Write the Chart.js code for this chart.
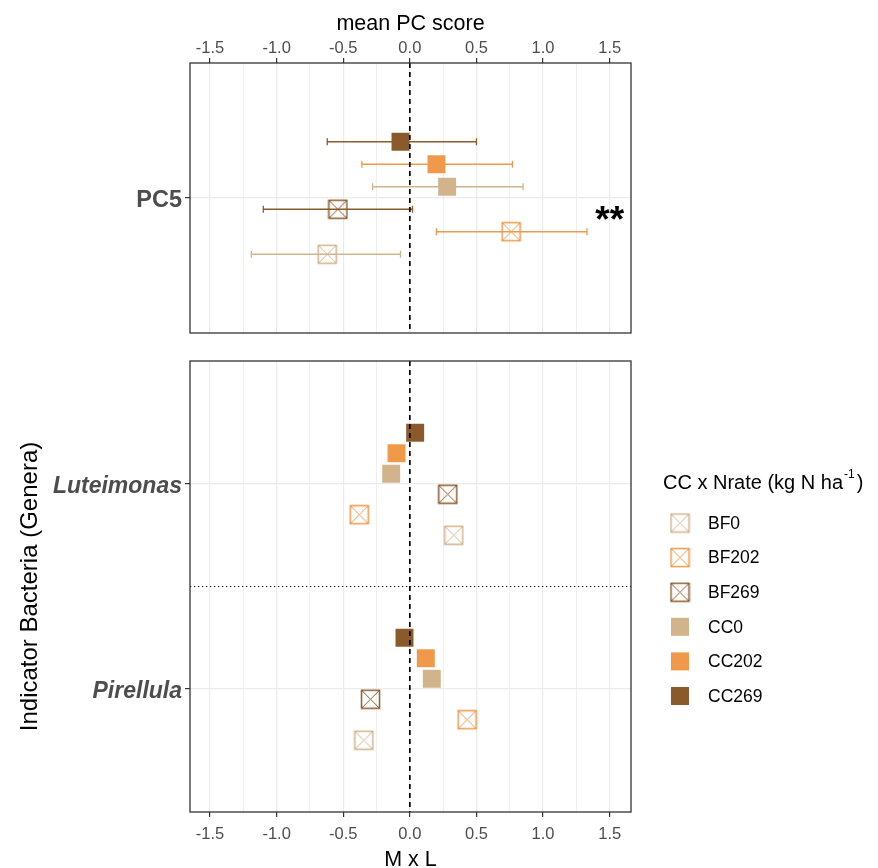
<!DOCTYPE html>
<html>
<head>
<meta charset="utf-8">
<title>PC5 and indicator bacteria</title>
<script src="https://cdn.jsdelivr.net/npm/chart.js@4.4.1/dist/chart.umd.min.js"></script>
<style>
    body { margin: 0; background: #fff; }
    #wrap { position: relative; width: 878px; height: 868px; }
    #wrap canvas { position: absolute; left: 0; top: 0; }
</style>
</head>
<body>
<div id="wrap">
    <canvas id="pcChart" width="878" height="868"></canvas>
    <canvas id="genusChart" width="878" height="868"></canvas>
</div>
<script>
const groups = ["BF0", "BF202", "BF269", "CC0", "CC202", "CC269"];
const groupColors = ["#D2B48C", "#F0994A", "#8B5A2B", "#D2B48C", "#F0994A", "#8B5A2B"];
const groupFilled = [false, false, false, true, true, true];

const pcLabels = ["PC5"];
const pcMean = [-0.62, 0.76, -0.54, 0.28, 0.20, -0.07];
const pcLow = [-1.19, 0.20, -1.10, -0.28, -0.36, -0.62];
const pcHigh = [-0.07, 1.33, 0.02, 0.85, 0.77, 0.50];
const pcSig = "**";

const genera = ["Pirellula", "Luteimonas"];
const pirellula = [-0.345, 0.43, -0.295, 0.165, 0.12, -0.04];
const luteimonas = [0.33, -0.38, 0.285, -0.14, -0.10, 0.04];

const xBreaks = [-1.5, -1.0, -0.5, 0.0, 0.5, 1.0, 1.5];

const FONT = "'Liberation Sans', Arial, sans-serif";
const TICK_GREY = "#4D4D4D";

const dodge = i => (i - (groups.length - 1) / 2) * 0.1;
const isMajor = v => Math.abs(v * 2 - Math.round(v * 2)) < 1e-9;

// major breaks plus the minor ones halfway between
const xGrid = [];
xBreaks.forEach((b, i) => {
    xGrid.push(b);
    if (i < xBreaks.length - 1) xGrid.push((b + xBreaks[i + 1]) / 2);
});

function boxCross(color, size) {
    const c = document.createElement("canvas");
    c.width = size;
    c.height = size;
    const g = c.getContext("2d");
    g.strokeStyle = color;
    g.lineWidth = 1.5;
    g.strokeRect(1.5, 1.5, size - 3, size - 3);
    g.lineWidth = 1;
    g.beginPath();
    g.moveTo(1.5, 1.5);
    g.lineTo(size - 1.5, size - 1.5);
    g.moveTo(size - 1.5, 1.5);
    g.lineTo(1.5, size - 1.5);
    g.stroke();
    return c;
}
const crossImgs = groupColors.map(c => boxCross(c, 21));

function makeDatasets(pointsFor) {
    return groups.map((g, i) => ({
        label: g,
        data: pointsFor(i),
        pointStyle: groupFilled[i] ? "rect" : crossImgs[i],
        pointRadius: 12.7,
        pointHoverRadius: 12.7,
        backgroundColor: groupColors[i],
        borderColor: groupColors[i],
        borderWidth: 0
    }));
}

function xScale(position, title, tickPad, titlePad, titleLine, height) {
    return {
        type: "linear",
        position: position,
        min: -1.65,
        max: 1.66,
        afterBuildTicks: s => { s.ticks = xGrid.map(v => ({ value: v })); },
        afterFit: s => { s.height = height; },
        ticks: {
            autoSkip: false,
            maxRotation: 0,
            padding: tickPad,
            color: TICK_GREY,
            font: { size: 16.5, family: FONT },
            callback: v => isMajor(v) ? v.toFixed(1) : ""
        },
        grid: {
            color: "#EBEBEB",
            lineWidth: ctx => isMajor(ctx.tick.value) ? 1.2 : 0.8,
            tickLength: 5,
            tickColor: ctx => isMajor(ctx.tick.value) ? "#333333" : "rgba(0,0,0,0)"
        },
        border: { display: false },
        title: {
            display: true,
            text: title,
            color: "#000",
            font: { size: 21.5, family: FONT, lineHeight: titleLine },
            padding: { top: titlePad, bottom: titlePad }
        }
    };
}

function yScale(min, max, values, labelOf, fontOf, title) {
    return {
        type: "linear",
        min: min,
        max: max,
        afterBuildTicks: s => { s.ticks = values.map(v => ({ value: v })); },
        afterFit: s => { s.width = 190; },
        ticks: {
            autoSkip: false,
            padding: 3,
            labelOffset: 3,
            color: TICK_GREY,
            font: fontOf,
            callback: v => labelOf(v)
        },
        grid: { color: "#EBEBEB", lineWidth: 1.2, tickLength: 5, tickColor: "#333333" },
        border: { display: false },
        title: {
            display: !!title,
            text: title || "",
            color: "#000",
            font: { size: 24, family: FONT, lineHeight: 1 },
            padding: { top: 18, bottom: 0 }
        }
    };
}

const errorBars = {
    id: "errorBars",
    beforeDatasetsDraw(chart) {
        const { ctx, scales: { x, y } } = chart;
        ctx.save();
        ctx.lineWidth = 1.3;
        groups.forEach((g, i) => {
            const py = y.getPixelForValue(1 + dodge(i));
            const x0 = x.getPixelForValue(pcLow[i]);
            const x1 = x.getPixelForValue(pcHigh[i]);
            ctx.strokeStyle = groupColors[i];
            ctx.beginPath();
            ctx.moveTo(x0, py);
            ctx.lineTo(x1, py);
            ctx.moveTo(x0, py - 3.5);
            ctx.lineTo(x0, py + 3.5);
            ctx.moveTo(x1, py - 3.5);
            ctx.lineTo(x1, py + 3.5);
            ctx.stroke();
        });
        ctx.restore();
    }
};

const refLines = {
    id: "refLines",
    afterDatasetsDraw(chart, args, opts) {
        const { ctx, chartArea: a, scales: { x, y } } = chart;
        ctx.save();
        ctx.strokeStyle = "#000";
        (opts.hlines || []).forEach(v => {
            const py = y.getPixelForValue(v);
            ctx.lineWidth = 1.2;
            ctx.setLineDash([1.2, 2.8]);
            ctx.beginPath();
            ctx.moveTo(a.left, py);
            ctx.lineTo(a.right, py);
            ctx.stroke();
        });
        const px = x.getPixelForValue(0);
        ctx.lineWidth = 1.7;
        ctx.setLineDash([5, 4]);
        ctx.beginPath();
        ctx.moveTo(px, a.top);
        ctx.lineTo(px, a.bottom);
        ctx.stroke();
        ctx.setLineDash([]);
        ctx.strokeStyle = "#333333";
        ctx.lineWidth = 1.3;
        ctx.strokeRect(a.left, a.top, a.right - a.left, a.bottom - a.top);
        ctx.restore();
    }
};

const sigText = {
    id: "sigText",
    afterDatasetsDraw(chart) {
        const { ctx, scales: { x, y } } = chart;
        ctx.save();
        ctx.fillStyle = "#000";
        ctx.font = `bold 37px ${FONT}`;
        ctx.textAlign = "center";
        ctx.textBaseline = "alphabetic";
        ctx.fillText(pcSig, x.getPixelForValue(1.5), y.getPixelForValue(1 + dodge(1)));
        ctx.restore();
    }
};

const sideLegend = {
    id: "sideLegend",
    afterDraw(chart) {
        const ctx = chart.ctx;
        ctx.save();
        ctx.fillStyle = "#000";
        ctx.textBaseline = "alphabetic";
        const head = "CC x Nrate (kg N ha";
        let tx = 663;
        ctx.font = `20px ${FONT}`;
        ctx.fillText(head, tx, 489);
        tx += ctx.measureText(head).width + 1;
        ctx.font = `12px ${FONT}`;
        ctx.fillText("-1", tx, 478);
        tx += ctx.measureText("-1").width + 2;
        ctx.font = `20px ${FONT}`;
        ctx.fillText(")", tx, 489);

        ctx.font = `17.5px ${FONT}`;
        ctx.textBaseline = "middle";
        groups.forEach((g, i) => {
            const cy = 523 + i * 34.6;
            if (groupFilled[i]) {
                ctx.fillStyle = groupColors[i];
                ctx.fillRect(671, cy - 9, 18, 18);
            } else {
                ctx.drawImage(crossImgs[i], 680 - 10.5, cy - 10.5);
            }
            ctx.fillStyle = "#000";
            ctx.fillText(g, 708, cy + 1);
        });
        ctx.restore();
    }
};

const common = {
    responsive: false,
    maintainAspectRatio: false,
    devicePixelRatio: 1,
    animation: false,
    events: []
};

new Chart(document.getElementById("pcChart"), {
    type: "scatter",
    data: {
        datasets: makeDatasets(i => [{ x: pcMean[i], y: 1 + dodge(i) }])
    },
    options: {
        ...common,
        layout: { padding: { left: 0, top: 0, right: 247, bottom: 535 } },
        scales: {
            x: xScale("top", "mean PC score", 0, 13.5, 1, 63),
            y: yScale(0.4, 1.6, [1], v => pcLabels[Math.round(v) - 1],
                { size: 23.5, weight: "bold", family: FONT })
        },
        plugins: {
            legend: { display: false },
            tooltip: { enabled: false }
        }
    },
    plugins: [errorBars, refLines, sigText]
});

new Chart(document.getElementById("genusChart"), {
    type: "scatter",
    data: {
        datasets: makeDatasets(i => [
            { x: pirellula[i], y: 1 + dodge(i) },
            { x: luteimonas[i], y: 2 + dodge(i) }
        ])
    },
    options: {
        ...common,
        layout: { padding: { left: 0, top: 361, right: 247, bottom: 0 } },
        scales: {
            x: xScale("bottom", "M x L", 8, 0, 0.75, 56),
            y: yScale(0.4, 2.6, [1, 2], v => genera[Math.round(v) - 1],
                { size: 23, weight: "bold", style: "italic", family: FONT },
                "Indicator Bacteria (Genera)")
        },
        plugins: {
            legend: { display: false },
            tooltip: { enabled: false },
            refLines: { hlines: [1.5] }
        }
    },
    plugins: [refLines, sideLegend]
});
</script>
</body>
</html>
